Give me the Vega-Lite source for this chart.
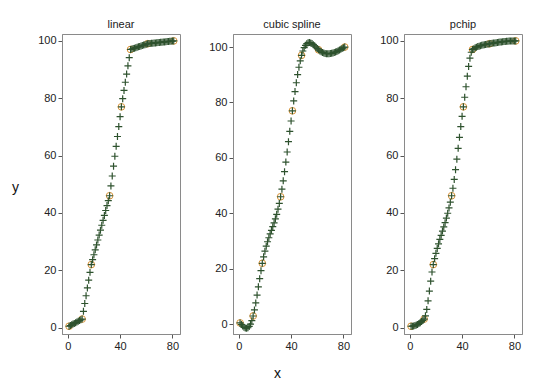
{
"$schema":"https://vega.github.io/schema/vega-lite/v6.json",
"padding":{"left":11,"top":18,"right":0,"bottom":0},
"spacing":27,
"datasets":{
"pts":[{"x":1,"y":0.5},{"x":11,"y":3},{"x":18,"y":22},{"x":32,"y":46},{"x":41,"y":77},{"x":48,"y":97},{"x":61,"y":99},{"x":81,"y":100}],
"lin":[{"x":1,"y":0.5},{"x":2,"y":0.75},{"x":3,"y":1},{"x":4,"y":1.25},{"x":5,"y":1.5},{"x":6,"y":1.75},{"x":7,"y":2},{"x":8,"y":2.25},{"x":9,"y":2.5},{"x":10,"y":2.75},{"x":11,"y":3},{"x":12,"y":5.71},{"x":13,"y":8.43},{"x":14,"y":11.14},{"x":15,"y":13.86},{"x":16,"y":16.57},{"x":17,"y":19.29},{"x":18,"y":22},{"x":19,"y":23.71},{"x":20,"y":25.43},{"x":21,"y":27.14},{"x":22,"y":28.86},{"x":23,"y":30.57},{"x":24,"y":32.29},{"x":25,"y":34},{"x":26,"y":35.71},{"x":27,"y":37.43},{"x":28,"y":39.14},{"x":29,"y":40.86},{"x":30,"y":42.57},{"x":31,"y":44.29},{"x":32,"y":46},{"x":33,"y":49.44},{"x":34,"y":52.89},{"x":35,"y":56.33},{"x":36,"y":59.78},{"x":37,"y":63.22},{"x":38,"y":66.67},{"x":39,"y":70.11},{"x":40,"y":73.56},{"x":41,"y":77},{"x":42,"y":79.86},{"x":43,"y":82.71},{"x":44,"y":85.57},{"x":45,"y":88.43},{"x":46,"y":91.29},{"x":47,"y":94.14},{"x":48,"y":97},{"x":49,"y":97.15},{"x":50,"y":97.31},{"x":51,"y":97.46},{"x":52,"y":97.62},{"x":53,"y":97.77},{"x":54,"y":97.92},{"x":55,"y":98.08},{"x":56,"y":98.23},{"x":57,"y":98.38},{"x":58,"y":98.54},{"x":59,"y":98.69},{"x":60,"y":98.85},{"x":61,"y":99},{"x":62,"y":99.05},{"x":63,"y":99.1},{"x":64,"y":99.15},{"x":65,"y":99.2},{"x":66,"y":99.25},{"x":67,"y":99.3},{"x":68,"y":99.35},{"x":69,"y":99.4},{"x":70,"y":99.45},{"x":71,"y":99.5},{"x":72,"y":99.55},{"x":73,"y":99.6},{"x":74,"y":99.65},{"x":75,"y":99.7},{"x":76,"y":99.75},{"x":77,"y":99.8},{"x":78,"y":99.85},{"x":79,"y":99.9},{"x":80,"y":99.95},{"x":81,"y":100}],
"cub":[{"x":1,"y":0.5},{"x":2,"y":-0.08},{"x":3,"y":-0.62},{"x":4,"y":-1.05},{"x":5,"y":-1.33},{"x":6,"y":-1.41},{"x":7,"y":-1.24},{"x":8,"y":-0.76},{"x":9,"y":0.07},{"x":10,"y":1.31},{"x":11,"y":3},{"x":12,"y":5.17},{"x":13,"y":7.72},{"x":14,"y":10.54},{"x":15,"y":13.5},{"x":16,"y":16.47},{"x":17,"y":19.35},{"x":18,"y":22},{"x":19,"y":24.33},{"x":20,"y":26.37},{"x":21,"y":28.17},{"x":22,"y":29.77},{"x":23,"y":31.22},{"x":24,"y":32.58},{"x":25,"y":33.89},{"x":26,"y":35.21},{"x":27,"y":36.58},{"x":28,"y":38.05},{"x":29,"y":39.68},{"x":30,"y":41.52},{"x":31,"y":43.61},{"x":32,"y":46},{"x":33,"y":48.73},{"x":34,"y":51.76},{"x":35,"y":55.04},{"x":36,"y":58.52},{"x":37,"y":62.14},{"x":38,"y":65.85},{"x":39,"y":69.6},{"x":40,"y":73.33},{"x":41,"y":77},{"x":42,"y":80.55},{"x":43,"y":83.93},{"x":44,"y":87.11},{"x":45,"y":90.05},{"x":46,"y":92.71},{"x":47,"y":95.04},{"x":48,"y":97},{"x":49,"y":98.57},{"x":50,"y":99.77},{"x":51,"y":100.63},{"x":52,"y":101.2},{"x":53,"y":101.5},{"x":54,"y":101.59},{"x":55,"y":101.48},{"x":56,"y":101.23},{"x":57,"y":100.86},{"x":58,"y":100.42},{"x":59,"y":99.94},{"x":60,"y":99.45},{"x":61,"y":99},{"x":62,"y":98.61},{"x":63,"y":98.29},{"x":64,"y":98.04},{"x":65,"y":97.84},{"x":66,"y":97.7},{"x":67,"y":97.61},{"x":68,"y":97.58},{"x":69,"y":97.59},{"x":70,"y":97.64},{"x":71,"y":97.73},{"x":72,"y":97.86},{"x":73,"y":98.01},{"x":74,"y":98.2},{"x":75,"y":98.41},{"x":76,"y":98.64},{"x":77,"y":98.89},{"x":78,"y":99.16},{"x":79,"y":99.43},{"x":80,"y":99.71},{"x":81,"y":100}],
"pch":[{"x":1,"y":0.5},{"x":2,"y":0.53},{"x":3,"y":0.61},{"x":4,"y":0.74},{"x":5,"y":0.92},{"x":6,"y":1.15},{"x":7,"y":1.43},{"x":8,"y":1.75},{"x":9,"y":2.12},{"x":10,"y":2.54},{"x":11,"y":3},{"x":12,"y":4.14},{"x":13,"y":6.38},{"x":14,"y":9.37},{"x":15,"y":12.76},{"x":16,"y":16.23},{"x":17,"y":19.42},{"x":18,"y":22},{"x":19,"y":24.05},{"x":20,"y":25.92},{"x":21,"y":27.64},{"x":22,"y":29.24},{"x":23,"y":30.76},{"x":24,"y":32.22},{"x":25,"y":33.67},{"x":26,"y":35.12},{"x":27,"y":36.63},{"x":28,"y":38.21},{"x":29,"y":39.91},{"x":30,"y":41.75},{"x":31,"y":43.77},{"x":32,"y":46},{"x":33,"y":48.61},{"x":34,"y":51.68},{"x":35,"y":55.09},{"x":36,"y":58.75},{"x":37,"y":62.55},{"x":38,"y":66.38},{"x":39,"y":70.13},{"x":40,"y":73.71},{"x":41,"y":77},{"x":42,"y":80.35},{"x":43,"y":84.01},{"x":44,"y":87.68},{"x":45,"y":91.1},{"x":46,"y":93.98},{"x":47,"y":96.04},{"x":48,"y":97},{"x":49,"y":97.3},{"x":50,"y":97.57},{"x":51,"y":97.8},{"x":52,"y":98},{"x":53,"y":98.17},{"x":54,"y":98.33},{"x":55,"y":98.46},{"x":56,"y":98.57},{"x":57,"y":98.67},{"x":58,"y":98.76},{"x":59,"y":98.84},{"x":60,"y":98.92},{"x":61,"y":99},{"x":62,"y":99.08},{"x":63,"y":99.15},{"x":64,"y":99.23},{"x":65,"y":99.3},{"x":66,"y":99.38},{"x":67,"y":99.45},{"x":68,"y":99.51},{"x":69,"y":99.58},{"x":70,"y":99.64},{"x":71,"y":99.7},{"x":72,"y":99.75},{"x":73,"y":99.8},{"x":74,"y":99.84},{"x":75,"y":99.88},{"x":76,"y":99.92},{"x":77,"y":99.95},{"x":78,"y":99.97},{"x":79,"y":99.99},{"x":80,"y":100},{"x":81,"y":100}]
},
"hconcat":[
{"width":118,"height":300,"title":"linear",
 "layer":[
  {"data":{"name":"pts"},"mark":{"type":"point","shape":"circle","filled":false,"size":45,"color":"#d9953b","strokeWidth":1,"opacity":1},
   "encoding":{"x":{"field":"x","type":"quantitative","scale":{"domain":[-4.4,85.8],"nice":false,"zero":false},"axis":{"values":[0,20,40,60,80],"title":null}},
   "y":{"field":"y","type":"quantitative","scale":{"domain":[-2.2,102.4],"nice":false,"zero":false},"axis":{"values":[0,20,40,60,80,100],"title":"y","titleAngle":0,"titleX":-47,"titleY":153,"titleAlign":"center","titleBaseline":"middle","titleFontSize":14,"titleFontWeight":"normal"}}}},
  {"data":{"name":"lin"},"mark":{"type":"point","shape":"M-1,0H1M0,-1V1","filled":false,"size":49,"color":"#2e522e","strokeWidth":1.2,"opacity":1},
   "encoding":{"x":{"field":"x","type":"quantitative"},"y":{"field":"y","type":"quantitative"}}}
 ]},
{"width":118,"height":300,"title":"cubic spline",
 "layer":[
  {"data":{"name":"pts"},"mark":{"type":"point","shape":"circle","filled":false,"size":45,"color":"#d9953b","strokeWidth":1,"opacity":1},
   "encoding":{"x":{"field":"x","type":"quantitative","scale":{"domain":[-4.4,85.8],"nice":false,"zero":false},"axis":{"values":[0,20,40,60,80],"title":"x","titleX":44,"titleY":39,"titleAlign":"center","titleBaseline":"middle","titleFontSize":14,"titleFontWeight":"normal"}},
   "y":{"field":"y","type":"quantitative","scale":{"domain":[-3.5,104.7],"nice":false,"zero":false},"axis":{"values":[0,20,40,60,80,100],"title":null}}}},
  {"data":{"name":"cub"},"mark":{"type":"point","shape":"M-1,0H1M0,-1V1","filled":false,"size":49,"color":"#2e522e","strokeWidth":1.2,"opacity":1},
   "encoding":{"x":{"field":"x","type":"quantitative"},"y":{"field":"y","type":"quantitative"}}}
 ]},
{"width":118,"height":300,"title":"pchip",
 "layer":[
  {"data":{"name":"pts"},"mark":{"type":"point","shape":"circle","filled":false,"size":45,"color":"#d9953b","strokeWidth":1,"opacity":1},
   "encoding":{"x":{"field":"x","type":"quantitative","scale":{"domain":[-4.4,85.8],"nice":false,"zero":false},"axis":{"values":[0,20,40,60,80],"title":null}},
   "y":{"field":"y","type":"quantitative","scale":{"domain":[-2.2,102.4],"nice":false,"zero":false},"axis":{"values":[0,20,40,60,80,100],"title":null}}}},
  {"data":{"name":"pch"},"mark":{"type":"point","shape":"M-1,0H1M0,-1V1","filled":false,"size":49,"color":"#2e522e","strokeWidth":1.2,"opacity":1},
   "encoding":{"x":{"field":"x","type":"quantitative"},"y":{"field":"y","type":"quantitative"}}}
 ]}
],
"config":{
 "font":"Liberation Sans",
 "view":{"stroke":"#8a8a8a","strokeWidth":1},
 "axis":{"grid":false,"labelFont":"Liberation Sans","labelFontSize":11,"labelColor":"#222222","tickColor":"#555555","tickSize":4,"labelPadding":2,"domainColor":"#8a8a8a","titleFont":"Liberation Sans","titleColor":"#111111"},
 "title":{"font":"Liberation Sans","fontSize":11,"fontWeight":"normal","color":"#222222","offset":4}
}
}
